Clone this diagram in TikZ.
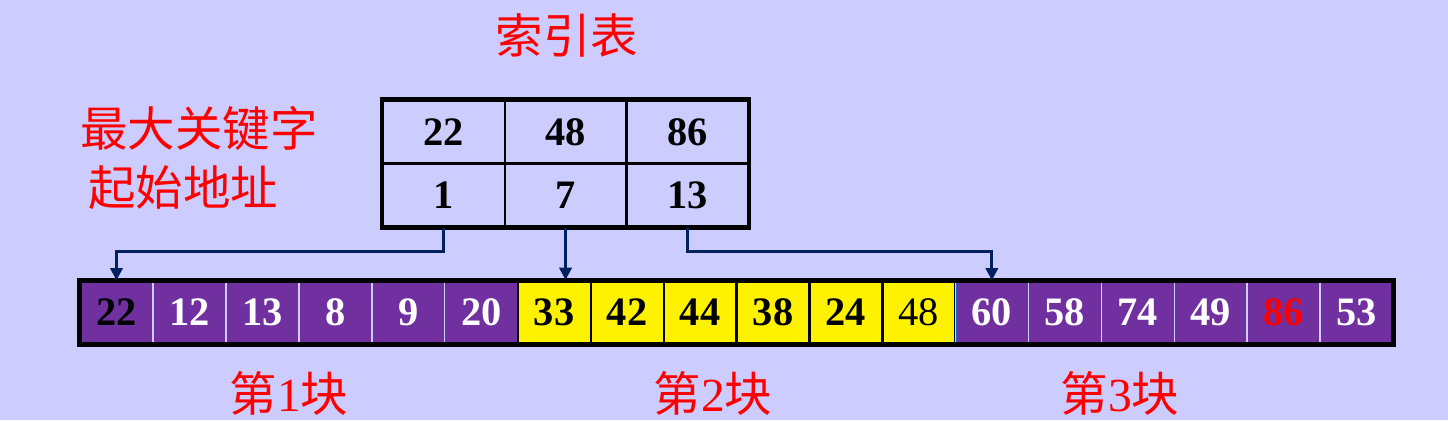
\documentclass[tikz,border=0pt]{standalone}
\usepackage{fontspec}
\setmainfont{Liberation Serif}
\newfontfamily\cjk{Noto Sans CJK SC}
\usetikzlibrary{arrows.meta}
\definecolor{bgblue}{HTML}{CCCCFF}
\definecolor{blockpurple}{HTML}{7030A0}
\definecolor{ptrblue}{HTML}{002060}

\begin{document}
\begin{tikzpicture}[x=0.02cm,y=-0.02cm,
  numfont/.style={font=\fontsize{23}{23}\selectfont\bfseries},
  idxcell/.style={numfont, draw=black, line width=1.2pt, minimum width=2.43cm,
    minimum height=1.26cm, inner sep=0pt},
  elem/.style={numfont, minimum width=1.458cm, minimum height=1.26cm, inner sep=0pt},
  purplecell/.style={elem, fill=blockpurple, draw=bgblue, line width=0.8pt, text=white},
  firstcell/.style={purplecell, text=black},
  redcell/.style={purplecell, text=red},
  yellowcell/.style={elem, fill=yellow, draw=black, line width=1.2pt},
  lastyellow/.style={yellowcell, font=\fontsize{23}{23}\selectfont},
  ptr/.style={draw=ptrblue, line width=1.7pt, -{Triangle[width=7pt,length=7pt]}},
  redlabel/.style={text=red, font=\cjk\fontsize{27}{27}\selectfont, inner sep=0pt},
]
  % Background and page size.
  \fill[bgblue] (0,0) rectangle (1448,420);
  \useasboundingbox (0,0) rectangle (1448,420);

  % Index table: keys on top, start addresses below.
  \foreach \k/\a [count=\i] in {22/1,48/7,86/13}{
    \node[idxcell] (k\i) at ({383+121.7*(\i-0.5)},132) {\k};
    \node[idxcell] (a\i) at ({383+121.7*(\i-0.5)},195) {\a};
  }
  \draw[line width=2.3pt] (k1.north west) rectangle (a3.south east);

  % Main list, three blocks.
  \foreach \v/\s [count=\i] in {22/firstcell,12/purplecell,13/purplecell,8/purplecell,
      9/purplecell,20/purplecell,33/yellowcell,42/yellowcell,44/yellowcell,38/yellowcell,
      24/yellowcell,48/lastyellow,60/purplecell,58/purplecell,74/purplecell,49/purplecell,
      86/redcell,53/purplecell}{
    \node[\s] (c\i) at ({80+72.95*(\i-0.5)},312.5) {\v};
  }
  \draw[cyan!50!blue, line width=0.8pt] (c12.north east) -- (c12.south east);
  \draw[line width=2.6pt] (c1.north west) rectangle (c18.south east);

  % Pointers from start addresses to blocks.
  \draw[ptr] (a1.south) -- ++(0,24) -| (c1.north);
  \draw[ptr] (a2.south) -- (a2.south |- c7.north);
  \draw[ptr] (a3.south) -- ++(0,24) -| (c13.north);

  % Labels.
  \node[redlabel] (title) at (567,35) {索引表};
  \node[redlabel, anchor=west] (keylbl) at (80,128) {最大关键字};
  \node[redlabel, anchor=west] (addrlbl) at (88,188) {起始地址};
  \node[redlabel] (blk1) at (289,393) {第{\rmfamily 1}块};
  \node[redlabel] (blk2) at (713,393) {第{\rmfamily 2}块};
  \node[redlabel] (blk3) at (1120,393) {第{\rmfamily 3}块};
\end{tikzpicture}
\end{document}
